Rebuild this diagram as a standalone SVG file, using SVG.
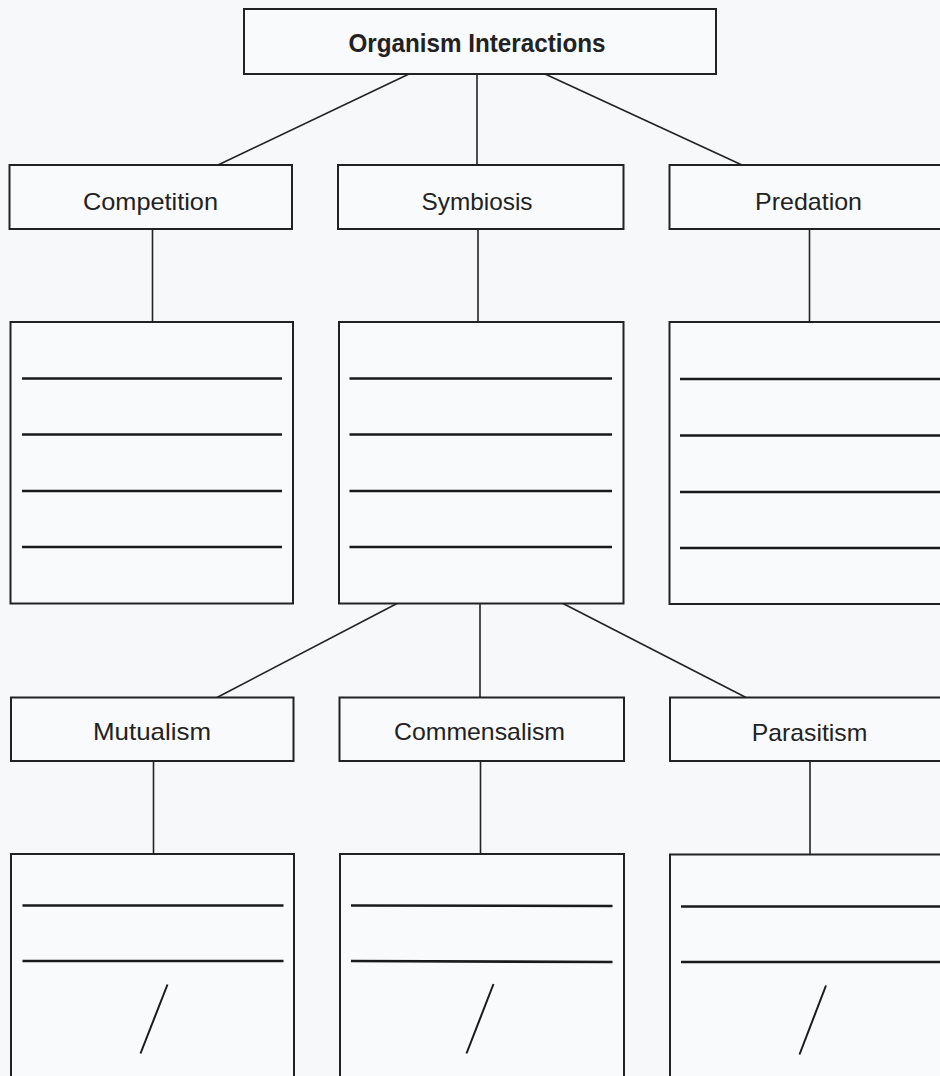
<svg xmlns="http://www.w3.org/2000/svg" width="940" height="1076" viewBox="0 0 940 1076">
<style>
.bg{fill:#f7f8fa}
.box{fill:#f9fafc;stroke:#222;stroke-width:2}
.conn line{stroke:#222;stroke-width:1.6;fill:none}
.blank{stroke:#1a1a1a;stroke-width:2.6;fill:none}
.slash{stroke:#1a1a1a;stroke-width:2;fill:none}
.lbl{font-family:"Liberation Sans","Arial",sans-serif;font-size:24px;fill:#222;text-anchor:middle}
.title{font-family:"Liberation Sans","Arial",sans-serif;font-size:26px;font-weight:bold;fill:#222;text-anchor:middle}
</style>
<rect class="bg" x="0" y="0" width="940" height="1076"/>
<g id="connectors" class="conn">
<line x1="409" y1="74" x2="218" y2="165"/>
<line x1="477" y1="74" x2="477" y2="165"/>
<line x1="545" y1="74" x2="742" y2="165"/>
<line x1="152.5" y1="229" x2="152.5" y2="322"/>
<line x1="478" y1="229" x2="478" y2="322"/>
<line x1="809.5" y1="229" x2="809.5" y2="322"/>
<line x1="397" y1="603.5" x2="217" y2="697.5"/>
<line x1="480" y1="603.5" x2="480" y2="697.5"/>
<line x1="563" y1="603.5" x2="746" y2="697.5"/>
<line x1="153.5" y1="761" x2="153.5" y2="854"/>
<line x1="480.5" y1="761" x2="480.5" y2="854"/>
<line x1="810" y1="761" x2="810" y2="854"/>
</g>
<g id="organism-interactions">
<rect class="box" x="244" y="9" width="472" height="65"/>
<text class="title" x="477" y="52" textLength="257" lengthAdjust="spacingAndGlyphs">Organism Interactions</text>
</g>
<g id="competition">
<rect class="box" x="9.5" y="165" width="282.5" height="64"/>
<text class="lbl" x="150.5" y="210" textLength="135" lengthAdjust="spacingAndGlyphs">Competition</text>
</g>
<g id="symbiosis">
<rect class="box" x="338" y="165" width="285.5" height="64"/>
<text class="lbl" x="477" y="210" textLength="111" lengthAdjust="spacingAndGlyphs">Symbiosis</text>
</g>
<g id="predation">
<rect class="box" x="669.5" y="165" width="282.5" height="64"/>
<text class="lbl" x="808.5" y="210" textLength="107" lengthAdjust="spacingAndGlyphs">Predation</text>
</g>
<g id="competition-notes">
<rect class="box" x="10.5" y="322" width="282.5" height="281.5"/>
<line class="blank" x1="22" y1="378.5" x2="282" y2="378.5"/>
<line class="blank" x1="22" y1="434.5" x2="282" y2="434.5"/>
<line class="blank" x1="22" y1="491" x2="282" y2="491"/>
<line class="blank" x1="22" y1="547" x2="282" y2="547"/>
</g>
<g id="symbiosis-notes">
<rect class="box" x="339" y="322" width="284.5" height="281.5"/>
<line class="blank" x1="349.5" y1="378.5" x2="612" y2="378.5"/>
<line class="blank" x1="349.5" y1="434.5" x2="612" y2="434.5"/>
<line class="blank" x1="349.5" y1="491" x2="612" y2="491"/>
<line class="blank" x1="349.5" y1="547" x2="612" y2="547"/>
</g>
<g id="predation-notes">
<rect class="box" x="669.5" y="322" width="282.5" height="282"/>
<line class="blank" x1="680" y1="379" x2="952" y2="379"/>
<line class="blank" x1="680" y1="435.5" x2="952" y2="435.5"/>
<line class="blank" x1="680" y1="492" x2="952" y2="492"/>
<line class="blank" x1="680" y1="548" x2="952" y2="548"/>
</g>
<g id="mutualism">
<rect class="box" x="11" y="697.5" width="282.5" height="63.5"/>
<text class="lbl" x="152" y="740" textLength="118" lengthAdjust="spacingAndGlyphs">Mutualism</text>
</g>
<g id="commensalism">
<rect class="box" x="339.5" y="697.5" width="284.5" height="63.5"/>
<text class="lbl" x="479.5" y="740" textLength="171" lengthAdjust="spacingAndGlyphs">Commensalism</text>
</g>
<g id="parasitism">
<rect class="box" x="670" y="697.5" width="282" height="63.5"/>
<text class="lbl" x="809.5" y="741" textLength="115.5" lengthAdjust="spacingAndGlyphs">Parasitism</text>
</g>
<g id="mutualism-notes">
<rect class="box" x="11" y="854" width="283" height="224"/>
<line class="blank" x1="22.5" y1="905.5" x2="283.5" y2="905.5"/>
<line class="blank" x1="22.5" y1="961" x2="283.5" y2="961"/>
<line class="slash" x1="167.5" y1="984.5" x2="140.5" y2="1053.5"/>
</g>
<g id="commensalism-notes">
<rect class="box" x="340" y="854" width="284" height="224"/>
<line class="blank" x1="351" y1="905.5" x2="612.5" y2="906"/>
<line class="blank" x1="351" y1="961" x2="612.5" y2="962"/>
<line class="slash" x1="493.5" y1="984" x2="466.5" y2="1053.5"/>
</g>
<g id="parasitism-notes">
<rect class="box" x="670" y="854.5" width="282" height="224"/>
<line class="blank" x1="681" y1="906.5" x2="952" y2="906.5"/>
<line class="blank" x1="681" y1="962" x2="952" y2="962"/>
<line class="slash" x1="826" y1="985.5" x2="799.5" y2="1054.5"/>
</g>
</svg>
